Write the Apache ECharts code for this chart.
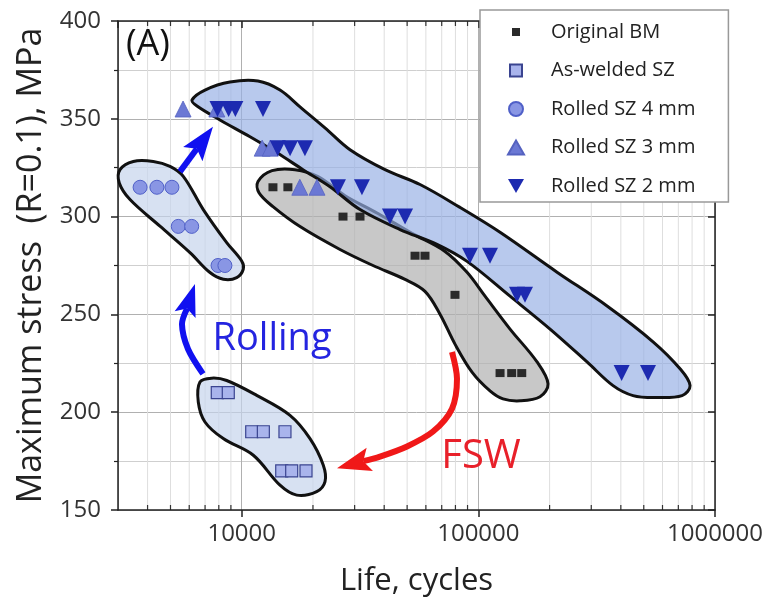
<!DOCTYPE html>
<html><head><meta charset="utf-8">
<script src="https://cdn.jsdelivr.net/npm/echarts@6/dist/echarts.min.js"></script>
<style>html,body{margin:0;padding:0;background:#fff}#c{width:769px;height:602px}</style>
</head><body><div id="c"></div>
<script>
// ---------- data (life in cycles, max stress in MPa) ----------
const xMinor = [4000,5000,6000,7000,8000,9000,20000,30000,40000,50000,60000,70000,80000,90000,
                200000,300000,400000,500000,600000,700000,800000,900000];
const seriesNames = ['Original BM','As-welded SZ','Rolled SZ 4 mm','Rolled SZ 3 mm','Rolled SZ 2 mm'];
const originalBM = [[13550,315],[15670,315],[26790,300],[31610,300],[54000,280],[59490,280],[79650,260],
                    [123500,220],[138300,220],[152500,220]];
const asWelded = [[7882,210],[8773,210],[11020,190],[12340,190],[15230,190],[14757,170],[16260,170],[18690,170]];
const rolled4 = [[3720,315],[4380,315],[5070,315],[5393,295],[6145,295],[7940,275],[8490,275]];
const rolled3 = [[5650,355],[7850,355],[12200,335],[13200,335],[17600,315],[20800,315]];
const rolled2 = [[7900,355],[8800,355],[9400,355],[12300,355],[14200,335],[16000,335],[18500,335],
                 [25500,315],[32200,315],[42300,300],[49000,300],[92200,280],[112000,280],
                 [145600,260],[157400,260],[403000,220],[521000,220]];

// hand-drawn group outlines (data coordinates)
const blobBM = [[11716,317.9],[13425,323.5],[16799,324.0],[21010,320.4],[27320,310.7],[37660,301.6],[52430,291.4],
  [72290,282.2],[89560,271.5],[106700,259.3],[136100,242.5],[177000,225.7],[197000,214.5],[182200,207.9],
  [150100,205.8],[127100,206.8],[112000,210.9],[94000,220.5],[79650,234.8],[68850,250.1],[59490,261.8],
  [48980,267.9],[35870,275.0],[26020,283.2],[17633,294.9],[13555,305.1],[11830,312.2]];
const blobRolled = [[6164,359.6],[6993,364.7],[8920,368.8],[11716,369.3],[14512,364.7],[17633,356.1],[22480,345.4],
  [28684,334.2],[40320,324.0],[56680,316.4],[83630,304.7],[123480,292.0],[215000,271.6],[349800,254.3],
  [547300,236.0],[711800,222.2],[784600,213.6],[725800,208.5],[558000,207.5],[450500,208.5],[370800,213.6],
  [287900,225.7],[200900,242.5],[136100,259.3],[89560,277.1],[66880,285.8],[46660,293.4],[31610,303.6],
  [23600,315.3],[18150,324.0],[14090,332.6],[10840,340.8],[8091,349.4],[6470,356.5]];
const blob4mm = [[3059,324],[3482,328.2],[4229,328.2],[4975,325.7],[5662,320.6],[6879,303.6],[8640,286.7],
  [9995,277.3],[10150,273.1],[9522,268.8],[8359,268],[7342,271.4],[6043,281.6],[4513,295.1],[3372,308.7],[3038,317.2]];
const blobWelded = [[6661,215.4],[7464,217.4],[8640,216.2],[11567,208.6],[15996,198.4],[19434,186.5],[22120,172.9],
  [22490,164.5],[20740,159.4],[17078,157.6],[14512,162.7],[11193,178],[8356,186.5],[6993,195],[6552,205.2]];

// arrows (last point = tip)
const arrowUp = [[5483,323.0],[7558,345.9]];
const arrowRolling = [[6859,219.6],[5928,232.3],[5591,245.0],[6343,265.5]];
const arrowFSW = [[77370,230.8],[81220,217.1],[77370,201.8],[64330,190.1],[49950,182.5],[38400,177.3],[25270,171.3]];

const annoTexts = ['Rolling','FSW','(A)'];
const annoAt = [[13425,237.4],[102600,177.3],[4016,388.1]];

// ---------- styles ----------
const blobs = [
  {pts: blobBM, fill: 'rgba(176,176,176,0.7)'},
  {pts: blobRolled, fill: 'rgba(150,176,228,0.68)'},
  {pts: blob4mm, fill: 'rgba(198,212,236,0.7)'},
  {pts: blobWelded, fill: 'rgba(198,212,236,0.7)'}
];
const arrows = [
  {pts: arrowUp, color: '#1010f0', w: 6, len: 34, hw: 12},
  {pts: arrowRolling, color: '#1010f0', w: 6, len: 32, hw: 11},
  {pts: arrowFSW, color: '#f01818', w: 6, len: 34, hw: 12}
];
const annoStyle = [
  {color: '#2424e0', size: 38},
  {color: '#e8202a', size: 40},
  {color: '#111', size: 36}
];
const FONT = '"Open Sans", "Noto Sans", sans-serif';

const chart = echarts.init(document.getElementById('c'), null, {renderer: 'canvas'});

function renderBlob(params, api) {
  const b = blobs[params.dataIndex];
  const pts = b.pts.map(p => api.coord(p));
  return {type: 'polygon', shape: {points: pts, smooth: 0.35},
          style: {fill: b.fill, stroke: '#111', lineWidth: 3}};
}
function renderArrow(params, api) {
  const a = arrows[params.dataIndex];
  const pts = a.pts.map(p => api.coord(p));
  const tip = pts[pts.length - 1], prev = pts[pts.length - 2];
  let dx = tip[0] - prev[0], dy = tip[1] - prev[1];
  const n = Math.hypot(dx, dy); dx /= n; dy /= n;
  const px = -dy, py = dx;
  const base = [tip[0] - dx * a.len, tip[1] - dy * a.len];
  const notch = [tip[0] - dx * a.len * 0.8, tip[1] - dy * a.len * 0.8];
  const shaft = pts.slice(0, -1).concat([notch]);
  return {type: 'group', children: [
    {type: 'polyline', shape: {points: shaft, smooth: 0.3},
     style: {stroke: a.color, lineWidth: a.w, fill: null, lineCap: 'butt', lineJoin: 'round'}},
    {type: 'polygon', shape: {points: [tip, [base[0] + px * a.hw, base[1] + py * a.hw], notch,
                                       [base[0] - px * a.hw, base[1] - py * a.hw]]},
     style: {fill: a.color}}
  ]};
}
function renderAnno(params, api) {
  const p = api.coord(annoAt[params.dataIndex]);
  const s = annoStyle[params.dataIndex];
  return {type: 'text', x: p[0], y: p[1],
          style: {text: annoTexts[params.dataIndex], fill: s.color, fontSize: s.size, fontFamily: FONT,
                  align: 'center', verticalAlign: 'middle'}};
}
function renderMinor(params, api) {
  const v = xMinor[params.dataIndex];
  const b = api.coord([v, 150]), t = api.coord([v, 400]);
  return {type: 'group', children: [
    {type: 'line', shape: {x1: b[0], y1: b[1], x2: t[0], y2: t[1]}, style: {stroke: '#dedede', lineWidth: 1}},
    {type: 'line', shape: {x1: b[0], y1: b[1], x2: b[0], y2: b[1] - 5}, style: {stroke: '#333', lineWidth: 1.2}},
    {type: 'line', shape: {x1: t[0], y1: t[1], x2: t[0], y2: t[1] + 5}, style: {stroke: '#333', lineWidth: 1.2}}
  ]};
}

const axisCommon = {
  axisLine: {show: true, onZero: false, lineStyle: {color: '#222', width: 1.5}},
  axisLabel: {fontSize: 24, fontFamily: FONT, color: '#333'}
};

chart.setOption({
  animation: false,
  backgroundColor: '#fff',
  grid: {left: 118, right: 54, top: 21, bottom: 90, show: false},
  legend: {
    orient: 'vertical', left: 480, top: 10,
    itemWidth: 60, itemHeight: 16, itemGap: 18.5,
    padding: [12, 33, 6, 27],
    symbolRotate: 0,
    backgroundColor: '#fff', borderColor: '#999', borderWidth: 1.5,
    textStyle: {fontSize: 20, fontFamily: FONT, color: '#222'},
    data: [
      {name: seriesNames[0], icon: 'path://M0,0M16,16M4,4h8v8h-8z'},
      {name: seriesNames[1], icon: 'path://M0,0M16,16M2,2h12v12h-12z'},
      {name: seriesNames[2], icon: 'path://M0,0M16,16M1,8a7,7 0 1,0 14,0a7,7 0 1,0 -14,0z'},
      {name: seriesNames[3], icon: 'path://M0,0M16,16M0,15L8,1L16,15z'},
      {name: seriesNames[4], icon: 'path://M0,0M16,16M0,1L16,1L8,15z'}
    ]
  },
  xAxis: [{
    type: 'log', logBase: 10, min: 3000, max: 1000000,
    ...axisCommon,
    name: 'Life, cycles', nameLocation: 'middle', nameGap: 56,
    nameTextStyle: {fontSize: 31, fontFamily: FONT, color: '#222'},
    axisTick: {show: true, length: 7, lineStyle: {color: '#222', width: 1.5}},
    axisLabel: {...axisCommon.axisLabel, margin: 12, showMinLabel: false,
                formatter: v => String(Math.round(v))},
    splitLine: {show: true, lineStyle: {color: '#b0b0b0', width: 1}}
  }, {
    type: 'log', logBase: 10, min: 3000, max: 1000000, position: 'top',
    axisLine: {show: true, onZero: false, lineStyle: {color: '#222', width: 1.5}},
    axisTick: {show: true, inside: true, length: 7, lineStyle: {color: '#222', width: 1.5}},
    axisLabel: {show: false}, splitLine: {show: false}
  }],
  yAxis: [{
    type: 'value', min: 150, max: 400, interval: 50,
    ...axisCommon,
    name: 'Maximum stress  (R=0.1), MPa', nameLocation: 'middle', nameGap: 70, nameRotate: 90,
    nameTextStyle: {fontSize: 34, fontFamily: FONT, color: '#222'},
    axisTick: {show: true, length: 7, lineStyle: {color: '#222', width: 1.5}},
    minorTick: {show: true, splitNumber: 2, length: 4, lineStyle: {color: '#222', width: 1.2}},
    axisLabel: {...axisCommon.axisLabel, margin: 17},
    splitLine: {show: true, lineStyle: {color: '#b0b0b0', width: 1}},
    minorSplitLine: {show: true, lineStyle: {color: '#cfcfcf', width: 1}}
  }, {
    type: 'value', min: 150, max: 400, interval: 50, position: 'right',
    axisLine: {show: true, onZero: false, lineStyle: {color: '#222', width: 1.5}},
    axisTick: {show: true, inside: true, length: 7, lineStyle: {color: '#222', width: 1.5}},
    minorTick: {show: true, splitNumber: 2, length: 4, lineStyle: {color: '#222', width: 1.2}},
    axisLabel: {show: false}, splitLine: {show: false}
  }],
  series: [
    {type: 'custom', name: 'minor', silent: true, z: 0, renderItem: renderMinor,
     data: xMinor.map(v => [v, 150])},
    {type: 'custom', name: 'groups', silent: true, z: 1, renderItem: renderBlob,
     data: blobs.map(b => b.pts[0])},
    {type: 'custom', name: 'arrows', silent: true, z: 1, renderItem: renderArrow,
     data: arrows.map(a => a.pts[0])},
    {type: 'custom', name: 'notes', silent: true, z: 5, renderItem: renderAnno,
     data: annoAt},
    {type: 'scatter', name: seriesNames[0], z: 3, data: originalBM, symbol: 'rect', symbolSize: [9, 8],
     itemStyle: {color: '#2a2a2a', opacity: 1}},
    {type: 'scatter', name: seriesNames[1], z: 3, data: asWelded, symbol: 'rect', symbolSize: 12,
     itemStyle: {color: '#a9b4ec', borderColor: '#3a4490', borderWidth: 1.2, opacity: 1}},
    {type: 'scatter', name: seriesNames[2], z: 3, data: rolled4, symbol: 'circle', symbolSize: 14,
     itemStyle: {color: '#8996e4', borderColor: '#5060c8', borderWidth: 1, opacity: 1}},
    {type: 'scatter', name: seriesNames[3], z: 3, data: rolled3, symbol: 'triangle', symbolSize: 16,
     itemStyle: {color: '#6b78d4', borderColor: '#5562c0', borderWidth: 0.8, opacity: 1}},
    {type: 'scatter', name: seriesNames[4], z: 3, data: rolled2, symbol: 'triangle', symbolRotate: 180,
     symbolSize: 16, itemStyle: {color: '#1d2ab0', opacity: 1}}
  ]
});
</script></body></html>
